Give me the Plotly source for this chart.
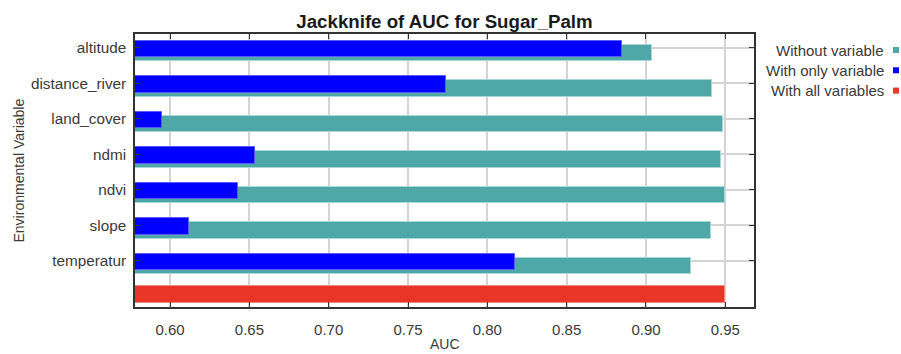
import plotly.graph_objects as go

# Jackknife results (AUC) per environmental variable
variables = ["altitude", "distance_river", "land_cover", "ndmi", "ndvi", "slope", "temperatur"]
auc_without = [0.9036, 0.9414, 0.9487, 0.9471, 0.9498, 0.9409, 0.9284]
auc_only = [0.8847, 0.7742, 0.5950, 0.6538, 0.6431, 0.6122, 0.8177]
auc_all = 0.9498

x_ticks = [0.60, 0.65, 0.70, 0.75, 0.80, 0.85, 0.90, 0.95]

TEAL = "#4ea8a8"
BLUE = "#0000ff"
RED = "#e83526"
FONT = "Liberation Sans, Arial, sans-serif"
TEXT = "#3a3a3a"

W, H = 901, 354
M_L, M_R, M_T, M_B = 135, 147, 34, 47
plot_w = W - M_L - M_R
plot_h = H - M_T - M_B

rows = list(range(len(variables)))
all_row = len(variables)

fig = go.Figure()

fig.add_trace(go.Bar(
    y=rows, x=auc_without, orientation="h", name="Without variable",
    marker=dict(color=TEAL, line=dict(color="#a9d6d6", width=1)),
    width=0.47, offset=-0.085,
))
fig.add_trace(go.Bar(
    y=rows, x=auc_only, orientation="h", name="With only variable",
    marker=dict(color=BLUE, line=dict(color="#5a5aff", width=1)),
    width=0.465, offset=-0.19,
))
fig.add_trace(go.Bar(
    y=[all_row], x=[auc_all], orientation="h", name="With all variables",
    marker=dict(color=RED, line=dict(color="#f08a80", width=1)),
    width=0.49, offset=-0.285,
))

fig.update_layout(
    width=W, height=H,
    margin=dict(l=M_L, r=M_R, t=M_T, b=M_B, pad=0),
    paper_bgcolor="white", plot_bgcolor="white",
    barmode="overlay", bargap=0, showlegend=False,
    font=dict(family=FONT, size=15, color=TEXT),
    title=dict(
        text="<b>Jackknife of AUC for Sugar_Palm</b>",
        x=(M_L + plot_w / 2) / W, xanchor="center",
        y=1 - 21.5 / H, yanchor="middle",
        font=dict(family=FONT, size=18.7, color="#1a1a1a"),
    ),
)

fig.update_xaxes(
    range=[0.5779, 0.9681], tickvals=x_ticks,
    ticktext=[f"{v:.2f}" for v in x_ticks],
    showgrid=True, gridcolor="#d4d4d4", gridwidth=1.5,
    showline=True, linecolor="#333333", linewidth=1.5, mirror="ticks",
    ticks="inside", ticklen=5, tickcolor="#333333", tickwidth=1.2,
    ticklabelstandoff=8, zeroline=False,
    tickfont=dict(size=15, color=TEXT),
)
fig.update_yaxes(
    range=[7.304, -0.386], tickvals=rows, ticktext=variables,
    showgrid=True, gridcolor="#d4d4d4", gridwidth=1.5,
    showline=True, linecolor="#333333", linewidth=1.5, mirror="ticks",
    ticks="inside", ticklen=5, tickcolor="#333333", tickwidth=1.2,
    ticklabelstandoff=4, zeroline=False,
    tickfont=dict(size=15.3, color=TEXT),
)

# axis titles
fig.add_annotation(
    text="AUC", xref="paper", yref="paper", x=0.5, y=0,
    xanchor="center", yanchor="middle", yshift=-37, showarrow=False,
    font=dict(size=14, color=TEXT),
)
fig.add_annotation(
    text="Environmental Variable", xref="paper", yref="paper",
    x=0, y=0.5, xanchor="center", yanchor="middle", xshift=-(M_L - 18),
    textangle=-90, showarrow=False, font=dict(size=14, color=TEXT),
)

# legend on the right: text right-aligned, swatch after it
legend_items = [("Without variable", TEAL), ("With only variable", BLUE), ("With all variables", RED)]
for i, (label, color) in enumerate(legend_items):
    y_px = 50 + 20.3 * i
    y_paper = (H - M_B - y_px) / plot_h
    fig.add_annotation(
        text=label, xref="paper", yref="paper",
        x=(886 - M_L) / plot_w, y=y_paper, xanchor="right", yanchor="middle",
        showarrow=False, font=dict(size=15, color=TEXT),
    )
    fig.add_shape(
        type="rect", xref="paper", yref="paper",
        x0=(893 - M_L) / plot_w, x1=(899 - M_L) / plot_w,
        y0=y_paper - 3 / plot_h, y1=y_paper + 3 / plot_h,
        fillcolor=color, line=dict(width=0),
    )

fig.write_html("out.html")
